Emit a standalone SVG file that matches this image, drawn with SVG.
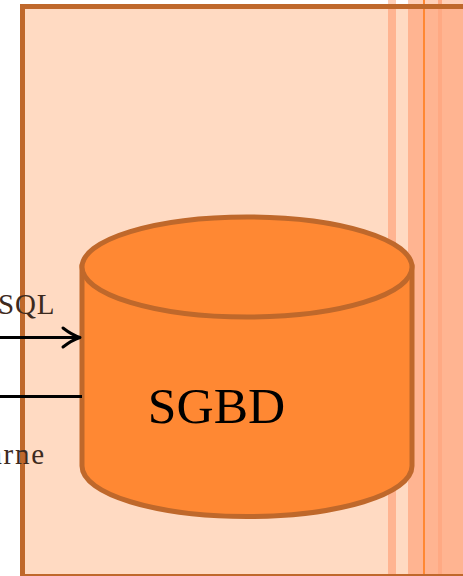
<svg xmlns="http://www.w3.org/2000/svg" width="463" height="576" viewBox="0 0 463 576">
<style>
.lbl{font-family:"Liberation Serif","Times New Roman",serif;fill:#3d2a1e;font-size:29px}
.edge{fill:none;stroke:#000;stroke-width:3}
.cyl{fill:#ff8833;stroke:#bf682b;stroke-width:5}
</style>
<rect width="463" height="576" fill="#fff"/>
<g id="frame">
<rect x="388" y="0" width="8" height="576" fill="#ffd0b8"/>
<rect x="408" y="0" width="55" height="576" fill="#ffd0b8"/>
<rect x="22.5" y="6.5" width="445" height="575" fill="#ffdac2"/>
<rect x="388" y="9" width="8" height="567" fill="#ffb491"/>
<rect x="408" y="9" width="55" height="567" fill="#ffb491"/>
<rect x="438" y="0" width="4" height="576" fill="#ffa983"/>
<rect x="423" y="0" width="2" height="576" fill="#ff8833"/>
<path d="M22.5 576V6.5H463" fill="none" stroke="#bf682b" stroke-width="5"/>
<path d="M22.500 575H463" fill="none" stroke="#bf682b" stroke-width="2"/>
</g>
<g id="labels">
<text class="lbl" x="-2" y="314" letter-spacing="0.800">SQL</text>
<text class="lbl" x="-11" y="464" letter-spacing="1.700">arne</text>
</g>
<g id="sgbd">
<path class="cyl" d="M82 267V466C82 494 156 516.500 247 516.500S412 494 412 466V267Z"/>
<ellipse class="cyl" cx="247" cy="267" rx="165" ry="50"/>
<text x="216.500" y="423" text-anchor="middle" font-family="'Liberation Serif','Times New Roman',serif" font-size="51.500" fill="#000">SGBD</text>
</g>
<g id="connectors">
<path class="edge" d="M0 337.500H79"/>
<path class="edge" stroke-linecap="round" stroke-linejoin="round" d="M63 328Q72 335 80 337.500Q72 340 63 347"/>
<path class="edge" d="M0 396.500H82"/>
</g>
</svg>
